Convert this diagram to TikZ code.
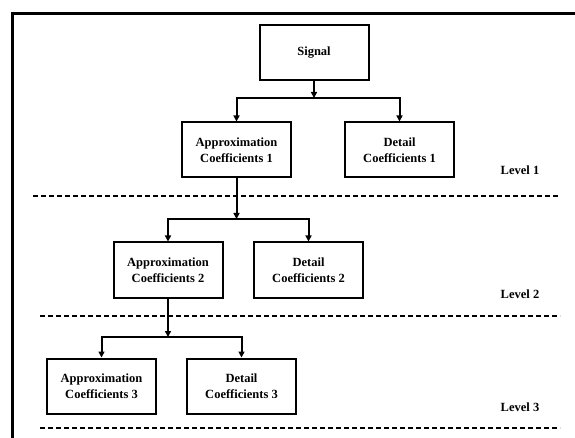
\documentclass[tikz,border=0pt]{standalone}
\usepackage{fontspec}
\setmainfont{Liberation Serif}
\usetikzlibrary{arrows.meta,positioning}

\begin{document}
\begin{tikzpicture}[x=1pt,y=-1pt]

        \useasboundingbox (0,0) rectangle (575,438);

        \edef\boxwidth{109pt}
        \edef\boxheight{55pt}
        \tikzstyle{coefbox}=[draw,line width=2pt,minimum width=\boxwidth,minimum height=\boxheight,align=center,inner sep=2pt,font=\fontsize{12.5}{16}\selectfont\bfseries]
        \tikzstyle{levellabel}=[font=\fontsize{12.5}{15}\selectfont\bfseries]
        \tikzstyle{levelline}=[line width=2pt,dash pattern=on 5pt off 3pt]
        \tikzstyle{branch}=[line width=2pt,-{Triangle[length=6pt,width=6pt]}]

        %% outer frame (top and left edge only)
        \draw[line width=3pt] (575,14) -- (12,14) -- (12,438);

        %% Level 1
        \node [coefbox] (signal) at (314,52.5) {Signal};
        \node [coefbox] (approx1) at (236.5,150) {Approximation\\Coefficients 1};
        \node [coefbox] (detail1) at (399.5,150) {Detail\\Coefficients 1};
        \coordinate (split1) at (314,98);
        \draw[branch] (signal) -- (split1);
        \draw[branch] (split1) -| (approx1);
        \draw[branch] (split1) -| (detail1);
        \node [levellabel] (level1) at (520,170) {Level 1};
        \draw[levelline] (33,196) -- (559,196);

        %% Level 2
        \node [coefbox] (approx2) at (168,270) {Approximation\\Coefficients 2};
        \node [coefbox] (detail2) at (308.5,270) {Detail\\Coefficients 2};
        \coordinate (split2) at (236.5,219);
        \draw[branch] (approx1) -- (split2);
        \draw[branch] (split2) -| (approx2);
        \draw[branch] (split2) -| (detail2);
        \node [levellabel] (level2) at (520,294) {Level 2};
        \draw[levelline] (40,316) -- (560,316);

        %% Level 3
        \node [coefbox] (approx3) at (101.5,386) {Approximation\\Coefficients 3};
        \node [coefbox] (detail3) at (241.5,386) {Detail\\Coefficients 3};
        \coordinate (split3) at (168,337);
        \draw[branch] (approx2) -- (split3);
        \draw[branch] (split3) -| (approx3);
        \draw[branch] (split3) -| (detail3);
        \node [levellabel] (level3) at (520,407) {Level 3};
        \draw[levelline] (40,428) -- (560,428);

\end{tikzpicture}
\end{document}
